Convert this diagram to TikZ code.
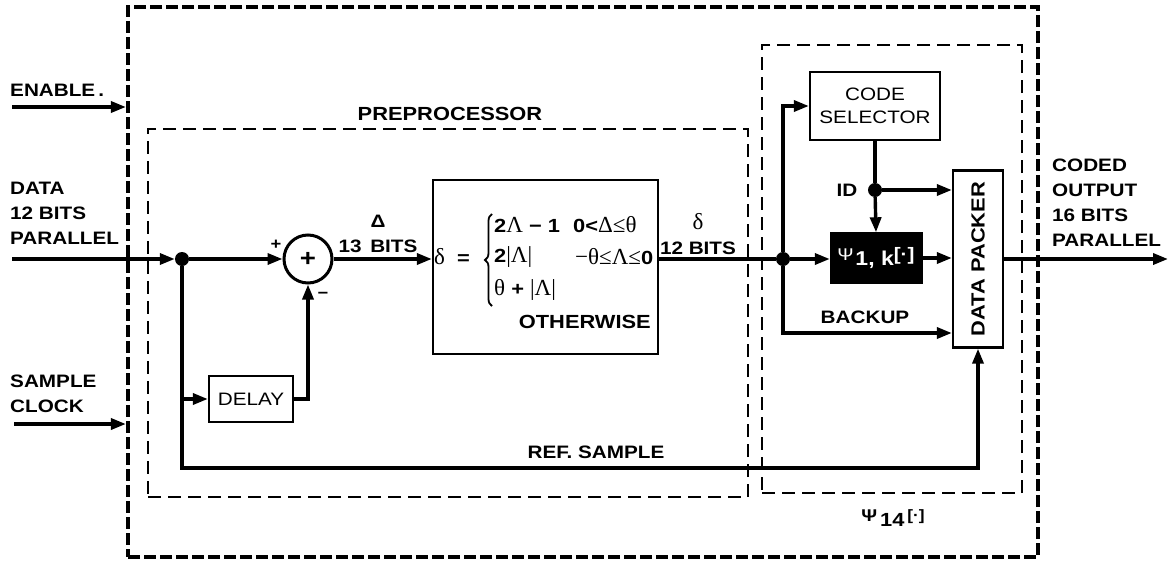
\documentclass[tikz,border=0pt]{standalone}
\usepackage{fontspec}
\setmainfont{Liberation Sans}[FakeStretch=1.15]
\newfontfamily\grk{Liberation Serif}
\usetikzlibrary{arrows.meta,decorations.pathreplacing}
\tikzset{
  x=1pt, y=-1pt,
  wire/.style={line width=3.4pt},
  arr/.style={wire, -{Triangle[length=15pt,width=11pt]}},
  outerbox/.style={draw, line width=4.2pt, dash pattern=on 12pt off 4pt, inner sep=0pt},
  groupbox/.style={draw, line width=2.2pt, dash pattern=on 13pt off 7pt, inner sep=0pt},
  blockbox/.style={draw, line width=2.3pt, inner sep=0pt, fill=white},
  jdot/.style={circle, fill=black, minimum size=14pt, inner sep=0pt},
  lab/.style={font=\fontsize{18}{25}\selectfont\bfseries, inner sep=0pt},
  rlab/.style={font=\fontsize{18}{25}\selectfont, inner sep=0pt},
  ftxt/.style={font=\fontsize{19}{22}\selectfont\bfseries, inner sep=0pt},
}
\newcommand{\gk}[1]{{\grk\mdseries\fontsize{23}{23}\selectfont #1}}
\begin{document}
\begin{tikzpicture}
\useasboundingbox (0,0) rectangle (1172,565);
% containers
\node[outerbox, minimum width=910pt, minimum height=550pt] (outer) at (583,282) {};
\node[groupbox, minimum width=600pt, minimum height=368pt] (pre) at (448,313) {};
\node[groupbox, minimum width=260pt, minimum height=448pt] (psig) at (892,269) {};
\node[lab, font=\fontsize{19}{22}\selectfont\bfseries] (prelab) at (450,114) {PREPROCESSOR};
\node[lab] (psiglab) at (893,518) {\raisebox{5pt}{\fontsize{17}{17}\selectfont Ψ}\,{\fontsize{19}{19}\selectfont 14}\,\raisebox{6pt}{\fontsize{15}{15}\selectfont[·]}};
% blocks
\node[blockbox, minimum width=225pt, minimum height=174pt] (form) at (545.5,267) {};
\node[draw, circle, line width=3pt, minimum size=48pt, inner sep=0pt, font=\fontsize{24}{24}\selectfont\bfseries] (sum) at (308,259) {+};
\node[blockbox, minimum width=84pt, minimum height=46pt, rlab] (delay) at (251,399) {DELAY};
\node[blockbox, minimum width=130pt, minimum height=68pt, rlab, align=center, font=\fontsize{18}{23}\selectfont] (codesel) at (875,106) {CODE\\SELECTOR};
\node[draw, fill=black, minimum width=92pt, minimum height=51pt, inner sep=0pt, text=white] (psi) at (876,258)
  {\raisebox{5pt}{\fontsize{17}{17}\selectfont Ψ}\,{\fontsize{20}{20}\selectfont\bfseries 1, k}\raisebox{5pt}{\fontsize{18}{18}\selectfont\bfseries[·]}};
\node[blockbox, minimum width=50pt, minimum height=177pt] (dp) at (978,259) {};
\node[lab, rotate=90, font=\fontsize{19}{22}\selectfont\bfseries] (dplab) at (dp.center) {DATA PACKER};
% junctions
\node[jdot] (j1) at (182,259) {};
\node[jdot] (j2) at (783,259) {};
\node[jdot] (j3) at (875,190) {};
% free ends
\coordinate (en) at (12,107);
\coordinate (din) at (12,259);
\coordinate (clk) at (14,424);
\coordinate (out) at (1168,259);
\coordinate (refc) at (978,468);
\coordinate (bk) at (783,333);
% formula
\node[ftxt] (feq) at (452,257) {\gk{δ}\ \ =};
\coordinate (fb1) at (492,306);
\coordinate (fb2) at (492,214);
\draw[line width=1.8pt, decorate, decoration={brace, amplitude=7pt}] (fb1) -- (fb2);
\node[ftxt, anchor=west] (l1a) at (494,225) {2\gk{Λ} − 1};
\node[ftxt, anchor=west] (l1b) at (573,225) {0<\gk{Δ≤θ}};
\node[ftxt, anchor=west] (l2a) at (494,257) {2\gk{|Λ|}};
\node[ftxt, anchor=west] (l2b) at (575,257) {\gk{−θ≤Λ≤}0};
\node[ftxt, anchor=west] (l3a) at (494,290) {\gk{θ} + \gk{|Λ|}};
\node[ftxt, anchor=east] (l3b) at (651,322) {OTHERWISE};
% outside labels
\node[lab, anchor=west] (enlab) at (10,90) {ENABLE\,.};
\node[lab, anchor=west, align=left] (dlab) at (10,213) {DATA\\12 BITS\\PARALLEL};
\node[lab, anchor=west, align=left] (clab) at (10,394) {SAMPLE\\CLOCK};
\node[lab, anchor=west, align=left] (olab) at (1052,203) {CODED\\OUTPUT\\16 BITS\\PARALLEL};
% inner labels
\node[lab, align=center] (dbits) at (378,234) {Δ\\13 \,BITS};
\node[lab, align=center] (sbits) at (698,234) {\gk{δ}\\12 BITS};
\node[lab, font=\fontsize{16}{16}\selectfont\bfseries] (plus) at (276,245) {+};
\node[lab, font=\fontsize{16}{16}\selectfont\bfseries] (minus) at (323,295) {−};
\node[lab] (idlab) at (847,190) {ID};
\node[lab] (bklab) at (865,317) {BACKUP};
\node[lab] (reflab) at (596,452) {REF. SAMPLE};
% connectors
\draw[arr] (en) -- (en -| outer.west);
\draw[arr] (clk) -- (clk -| outer.west);
\draw[arr] (din) -- (j1);
\draw[arr] (j1) -- (sum);
\draw[arr] (j1) |- (refc) -- (dp.south);
\draw[arr] (j1 |- delay.west) -- (delay.west);
\draw[arr] (delay.east) -| (sum.south);
\draw[arr] (sum.east) -- (form.west |- sum.east);
\draw[wire] (form.east |- j2) -- (j2);
\draw[arr] (j2) -- (psi.west |- j2);
\draw[arr] (j2) |- (codesel.west);
\draw[arr] (j2) -- (bk) -- (dp.west |- bk);
\draw[wire] (codesel.south) -- (j3);
\draw[arr] (j3) -- (psi.north);
\draw[arr] (j3) -- (dp.west |- j3);
\draw[arr] (psi.east) -- (dp.west |- psi.east);
\draw[arr] (dp.east) -- (out);
\end{tikzpicture}
\end{document}
